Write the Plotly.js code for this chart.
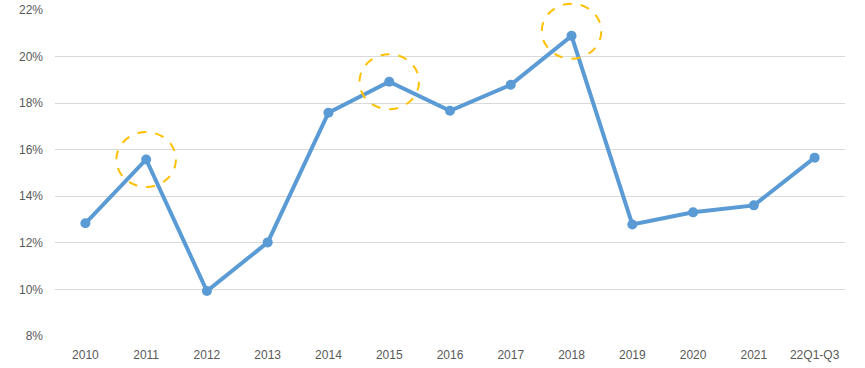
<!DOCTYPE html>
<html>
<head>
<meta charset="utf-8">
<script src="https://cdn.plot.ly/plotly-3.0.1.min.js"></script>
<style>html,body{margin:0;padding:0;background:#fff;}#chart{width:865px;height:368px;}</style>
</head>
<body>
<div id="chart"></div>
<script>
const categories = ["2010","2011","2012","2013","2014","2015","2016","2017","2018","2019","2020","2021","22Q1-Q3"];
const values = [12.84, 15.58, 9.93, 12.02, 17.59, 18.92, 17.67, 18.79, 20.89, 12.79, 13.31, 13.61, 15.66];
const highlighted = ["2011", "2015", "2018"];
const yTicks = [8, 10, 12, 14, 16, 18, 20, 22];
const yMin = 8, yMax = 22;

const shapes = highlighted.map(function (c) {
  const i = categories.indexOf(c);
  const v = values[i];
  const cy = v + (c === "2018" ? 0.2 : 0);
  const toPaperY = function (y) { return (y - yMin) / (yMax - yMin); };
  const toPaperX = function (x) { return (x + 0.5) / categories.length; };
  return {
    type: "circle", xref: "paper", yref: "paper",
    x0: toPaperX(i - 0.49), x1: toPaperX(i + 0.49),
    y0: toPaperY(cy - 1.18), y1: toPaperY(cy + 1.18),
    line: {color: "#FFC000", width: 2, dash: "dash"},
    layer: "above"
  };
});

const trace = {
  x: categories, y: values, type: "scatter", mode: "lines+markers",
  line: {color: "#5B9BD5", width: 4},
  marker: {color: "#5B9BD5", size: 10},
  hoverinfo: "skip", cliponaxis: false
};

const layout = {
  width: 865, height: 368,
  margin: {l: 55, r: 20, t: 10, b: 32},
  paper_bgcolor: "#ffffff", plot_bgcolor: "#ffffff",
  showlegend: false,
  font: {family: "Liberation Sans, Arial, sans-serif", size: 12, color: "#595959"},
  xaxis: {
    type: "category", range: [-0.5, 12.5], showgrid: false, zeroline: false,
    showline: false, ticks: "", ticklabelstandoff: 10,
    tickfont: {size: 12, color: "#595959"}
  },
  yaxis: {
    range: [yMin, yMax], tickvals: yTicks, ticktext: yTicks.map(function (t) { return t + "%"; }),
    showgrid: true, gridcolor: "#D9D9D9", gridwidth: 1, zeroline: false,
    showline: false, ticks: "", ticklabelstandoff: 11,
    tickfont: {size: 12, color: "#595959"}
  },
  shapes: shapes
};

Plotly.newPlot("chart", [trace], layout, {staticPlot: true, displayModeBar: false});
</script>
</body>
</html>
